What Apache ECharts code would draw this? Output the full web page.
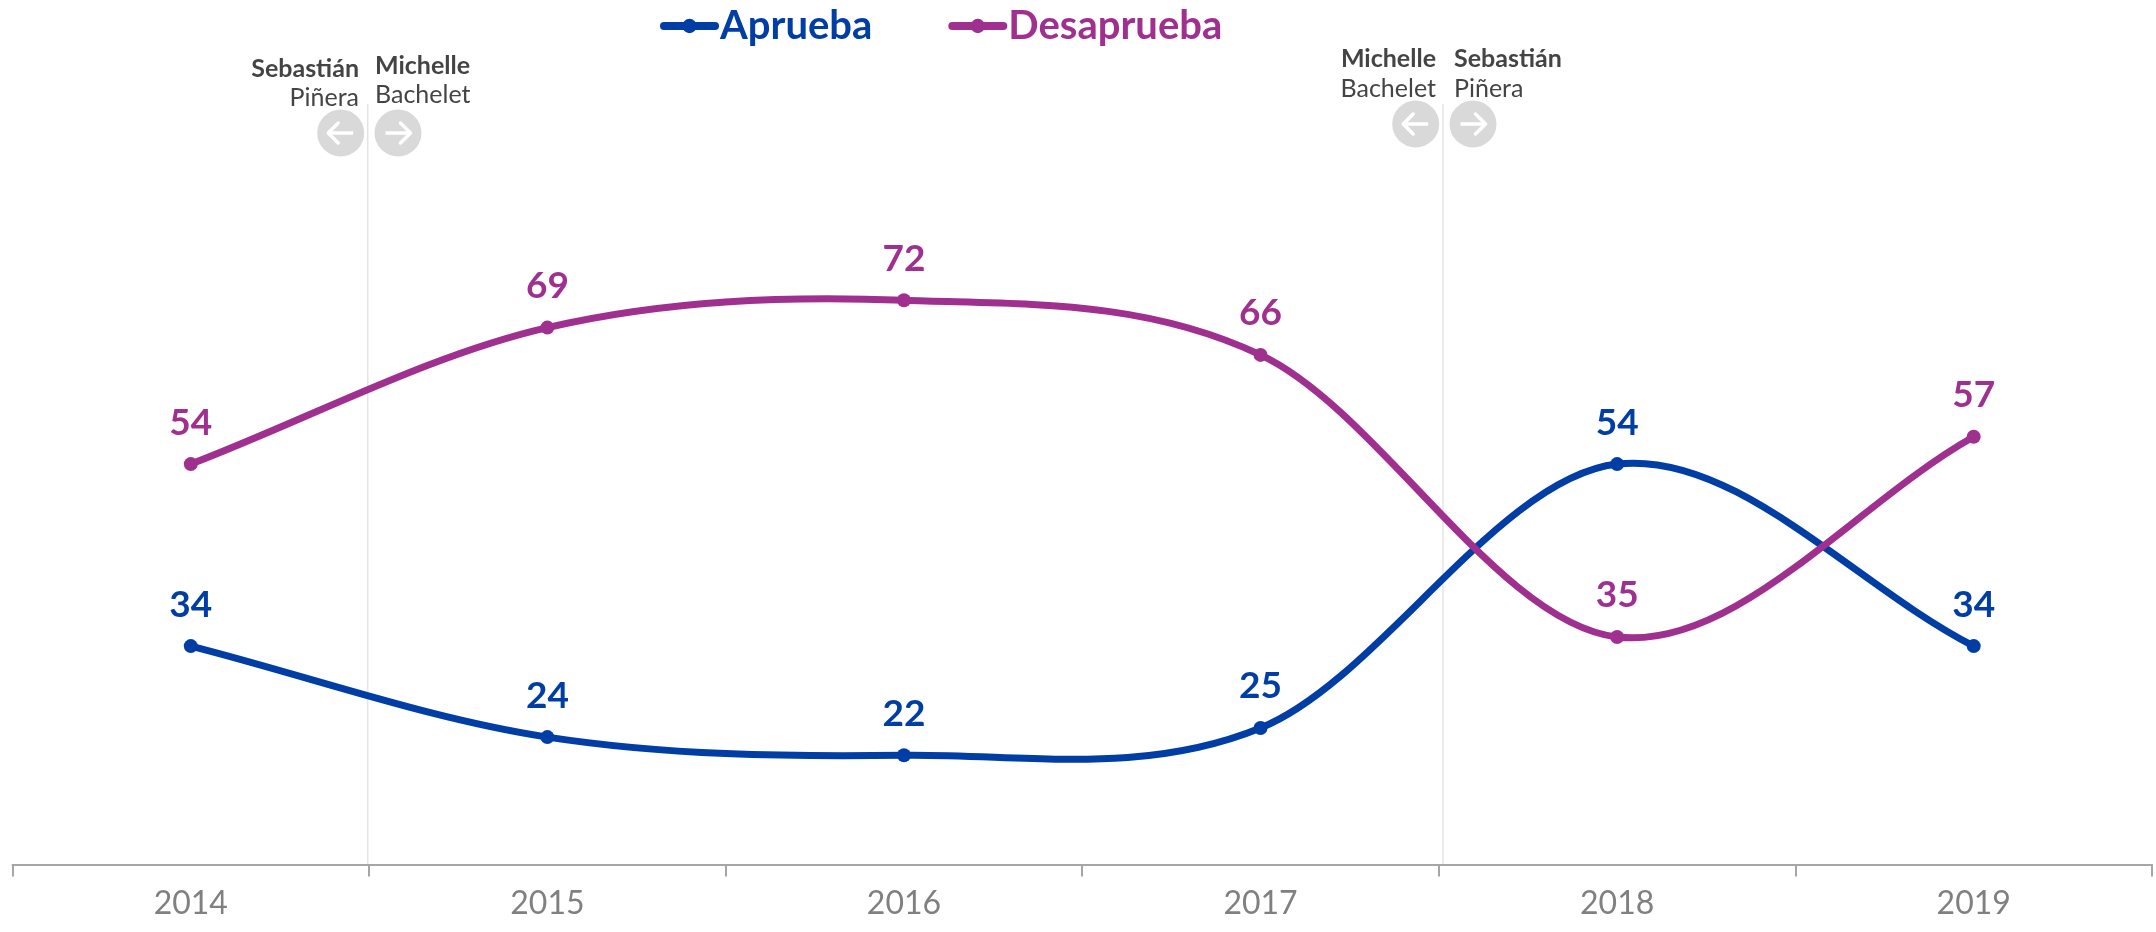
<!DOCTYPE html>
<html><head><meta charset="utf-8">
<style>html,body{margin:0;padding:0;background:#fff}#c{width:2156px;height:932px}</style>
<script src="https://cdn.jsdelivr.net/npm/echarts@6/dist/echarts.min.js"></script>
</head><body><div id="c"></div>
<script>
const categories = ['2014','2015','2016','2017','2018','2019'];
const aprueba = [34,24,22,25,54,34];
const desaprueba = [54,69,72,66,35,57];
const BLUE='#003DA5', PURPLE='#A03090', FONT='Lato, Carlito, sans-serif', LW=7;

function txt(x,base,s,bold,align){return {type:'text',x:x,y:base-8.5,silent:true,style:{text:s,fill:'#444444',fontFamily:FONT,fontSize:25,fontWeight:bold?'bold':'normal',align:align,verticalAlign:'middle'}};}
function badge(x,y,dir){
  const r=23.5,a=12.5,h=10;
  return [
    {type:'circle',shape:{cx:x,cy:y,r:r},style:{fill:'#D9D9D9'},silent:true},
    {type:'polyline',silent:true,shape:{points:[[x-a*dir,y],[x+a*dir,y]]},style:{stroke:'#fff',lineWidth:3.5,fill:null}},
    {type:'polyline',silent:true,shape:{points:[[x+a*dir-h*dir,y-h],[x+a*dir,y],[x+a*dir-h*dir,y+h]]},style:{stroke:'#fff',lineWidth:3.5,fill:null,lineCap:'round',lineJoin:'round'}}
  ];
}
function guide(x){return {type:'line',silent:true,z:-1,shape:{x1:x,y1:104,x2:x,y2:864},style:{stroke:'#E4E4E4',lineWidth:1.5}};}
const graphics=[
  guide(367.7),guide(1443),
  txt(359,77,'Sebastián',true,'right'),txt(359,106,'Piñera',false,'right'),
  txt(375,74,'Michelle',true,'left'),txt(375,103,'Bachelet',false,'left'),
  txt(1436,67,'Michelle',true,'right'),txt(1436,97,'Bachelet',false,'right'),
  txt(1454,67,'Sebastián',true,'left'),txt(1454,97,'Piñera',false,'left'),
  ...badge(340.7,133,-1),...badge(398,133,1),...badge(1415.7,124,-1),...badge(1473,124,1)
];
function line(name,data,color){
  return {name:name,type:'line',data:data,z:3,symbol:'circle',symbolSize:14,
    lineStyle:{color:color,width:LW,opacity:0},itemStyle:{color:color},
    label:{show:true,position:'top',distance:16,color:color,fontFamily:FONT,fontWeight:'bold',fontSize:37}};
}
function curve(data,color){
  return {type:'custom',z:2,silent:true,clip:false,tooltip:{show:false},legendHoverLink:false,
    data:[0],
    renderItem:function(params,api){
      const p=data.map((v,i)=>api.coord([i,v]));
      const kids=[];
      for(let i=0;i<p.length-1;i++){
        const a=p[Math.max(i-1,0)],b=p[i],c=p[i+1],e=p[Math.min(i+2,p.length-1)];
        const k0=i===0?1/3:1/6, k1=i+2>p.length-1?1/3:1/6;
        const s0=i===0?[c[0]-b[0],c[1]-b[1]]:[c[0]-a[0],c[1]-a[1]];
        const s1=i+2>p.length-1?[c[0]-b[0],c[1]-b[1]]:[e[0]-b[0],e[1]-b[1]];
        kids.push({type:'bezierCurve',
          shape:{x1:b[0],y1:b[1],cpx1:b[0]+s0[0]*k0,cpy1:b[1]+s0[1]*k0,cpx2:c[0]-s1[0]*k1,cpy2:c[1]-s1[1]*k1,x2:c[0],y2:c[1]},
          style:{stroke:color,lineWidth:LW,fill:null,lineCap:'round'}});
      }
      return {type:'group',children:kids};
    }};
}
const chart=echarts.init(document.getElementById('c'),null,{renderer:'canvas'});
chart.setOption({
  animation:false,backgroundColor:'#fff',
  grid:{left:12.5,right:4,top:104,bottom:67.5},
  legend:{left:660,top:6,padding:0,itemWidth:51,itemHeight:18,itemGap:76,
    lineStyle:{width:8,opacity:1,cap:'round'},
    textStyle:{fontFamily:FONT,fontWeight:'bold',fontSize:40},
    data:[{name:'Aprueba',textStyle:{color:BLUE}},{name:'Desaprueba',textStyle:{color:PURPLE}}]},
  xAxis:{type:'category',data:categories,boundaryGap:true,
    axisLine:{lineStyle:{color:'#A6A6A6',width:2}},
    axisTick:{show:true,length:12,lineStyle:{color:'#A6A6A6',width:2}},
    axisLabel:{color:'#808080',fontFamily:FONT,fontSize:32,margin:23}},
  yAxis:{type:'value',min:10,max:93.57,show:false,splitLine:{show:false}},
  series:[curve(aprueba,BLUE),curve(desaprueba,PURPLE),line('Aprueba',aprueba,BLUE),line('Desaprueba',desaprueba,PURPLE)],
  graphic:graphics
});
</script></body></html>
